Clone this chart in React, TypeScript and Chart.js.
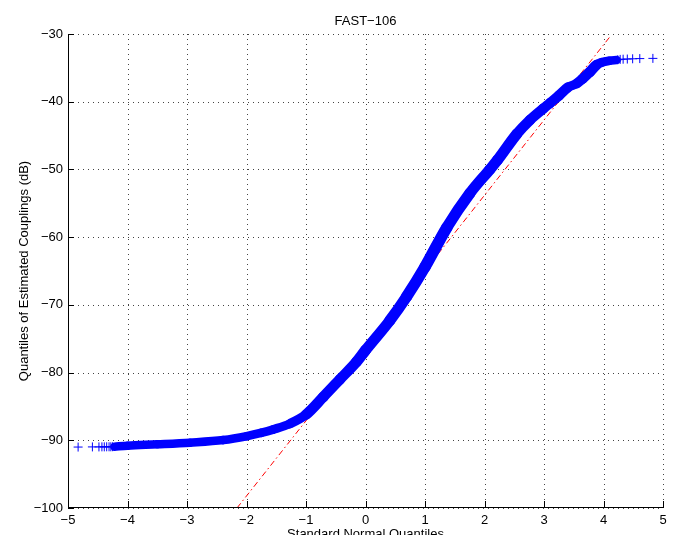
import React, { useEffect, useRef } from "react";
import { Chart, registerables } from "chart.js";

Chart.register(...registerables);

const chartTitle = "FAST\u2212106";
const xAxisLabel = "Standard Normal Quantiles";
const yAxisLabel = "Quantiles of Estimated Couplings (dB)";

const xTicks = [-5, -4, -3, -2, -1, 0, 1, 2, 3, 4, 5];
const yTicks = [-100, -90, -80, -70, -60, -50, -40, -30];

// dense central band of the quantile curve
const bandX = [
  -4.22, -4.0, -3.5, -2.95, -2.39, -2.0, -1.75, -1.55, -1.27, -1.0, -0.71, -0.43, -0.15, 0,
  0.41, 0.69, 1.0, 1.365, 1.756, 2.09, 2.22, 2.54, 2.765, 2.99, 3.1, 3.25, 3.4, 3.55, 3.65,
  3.77, 3.88, 3.97, 4.1, 4.22,
];
const bandY = [
  -90.95, -90.8, -90.6, -90.35, -89.97, -89.4, -88.9, -88.4, -87.55, -86.2, -83.6, -81.0,
  -78.4, -76.7, -72.3, -68.8, -64.4, -58.6, -53.5, -50.0, -48.6, -44.8, -42.7, -41.0, -40.2,
  -39.1, -37.9, -37.3, -36.6, -35.6, -34.6, -34.2, -33.95, -33.85,
];

// sparse tail markers
const leftTailX = [-4.83, -4.59, -4.48, -4.43, -4.39, -4.35, -4.31, -4.28, -4.25];
const leftTailY = [-91.0, -90.98, -90.98, -90.97, -90.97, -90.96, -90.96, -90.96, -90.95];
const rightTailX = [4.24, 4.28, 4.33, 4.4, 4.49, 4.61, 4.83];
const rightTailY = [-33.8, -33.75, -33.72, -33.7, -33.66, -33.63, -33.6];

// reference line (dash-dot)
const refLineX = [-2.16, 4.1];
const refLineY = [-100, -30.5];

const FONT = "'Liberation Sans', Arial, Helvetica, sans-serif";

const fmt = (v: number) => (v < 0 ? "\u2212" + String(Math.abs(v)) : String(v));

const toPts = (xs: number[], ys: number[]) => xs.map((x, i) => ({ x, y: ys[i] }));

const matlabAxes = {
  id: "matlabAxes",
  beforeDatasetsDraw(chart: any) {
    const { ctx, chartArea: a, scales } = chart;
    const xs = scales.x;
    const ys = scales.y;
    ctx.save();
    ctx.strokeStyle = "#444";
    ctx.lineWidth = 1;
    ctx.setLineDash([1, 4]);
    xTicks.forEach((v) => {
      const px = Math.round(xs.getPixelForValue(v)) + 0.5;
      ctx.beginPath();
      ctx.moveTo(px, a.top);
      ctx.lineTo(px, a.bottom);
      ctx.stroke();
    });
    yTicks.forEach((v) => {
      const py = Math.round(ys.getPixelForValue(v)) + 0.5;
      ctx.beginPath();
      ctx.moveTo(a.left, py);
      ctx.lineTo(a.right, py);
      ctx.stroke();
    });
    ctx.restore();
  },
  afterDatasetsDraw(chart: any) {
    const { ctx, chartArea: a, scales } = chart;
    const xs = scales.x;
    const ys = scales.y;
    ctx.save();
    ctx.fillStyle = "#000";
    const left = Math.round(a.left);
    const bottom = Math.round(a.bottom) - 1;
    ctx.fillRect(left, Math.round(a.top), 1, bottom - Math.round(a.top) + 1);
    ctx.fillRect(left, bottom, Math.round(a.right) - left + 1, 1);
    const tl = 6;
    xTicks.forEach((v) => {
      const px = Math.round(xs.getPixelForValue(v));
      ctx.fillRect(px, bottom - tl, 1, tl);
    });
    yTicks.forEach((v) => {
      const py = Math.round(ys.getPixelForValue(v));
      ctx.fillRect(left, py, tl, 1);
    });
    ctx.restore();
  },
  afterDraw(chart: any) {
    const { ctx, chartArea: a } = chart;
    ctx.save();
    ctx.fillStyle = "#000";
    ctx.font = `13px ${FONT}`;
    ctx.textAlign = "center";
    ctx.textBaseline = "alphabetic";
    const cx = (a.left + a.right) / 2;
    ctx.fillText(chartTitle, cx, 25);
    ctx.fillText(xAxisLabel, cx, 537.5);
    ctx.translate(28, (a.top + a.bottom) / 2);
    ctx.rotate(-Math.PI / 2);
    ctx.fillText(yAxisLabel, 0, 0);
    ctx.restore();
  },
};

const bandWidth = (c: any) => {
  const dx = Math.abs(c.p1.x - c.p0.x);
  const dy = Math.abs(c.p1.y - c.p0.y);
  const s = Math.sin(Math.atan2(dy, dx || 1e-6));
  return 8.5 + 4 * s * s;
};

export default function App() {
  const ref = useRef<HTMLCanvasElement | null>(null);
  useEffect(() => {
    if (!ref.current) return;
    const chart = new Chart(ref.current, {
      type: "line",
      data: {
        datasets: [
          {
            label: "band",
            data: toPts(bandX, bandY),
            borderColor: "#0000ff",
            borderWidth: 9,
            borderCapStyle: "round",
            borderJoinStyle: "round",
            cubicInterpolationMode: "monotone",
            segment: { borderWidth: bandWidth },
            pointRadius: 0,
            fill: false,
          },
          {
            label: "tailsLeft",
            data: toPts(leftTailX, leftTailY),
            showLine: false,
            pointStyle: "cross",
            pointRadius: 4.5,
            borderWidth: 1,
            borderColor: "#0000ff",
            backgroundColor: "#0000ff",
          },
          {
            label: "tailsRight",
            data: toPts(rightTailX, rightTailY),
            showLine: false,
            pointStyle: "cross",
            pointRadius: 4.5,
            borderWidth: 1,
            borderColor: "#0000ff",
            backgroundColor: "#0000ff",
          },
          {
            label: "reference",
            data: toPts(refLineX, refLineY),
            borderColor: "#ff0000",
            borderWidth: 1,
            borderDash: [6, 3, 1.5, 3],
            pointRadius: 0,
            fill: false,
          },
        ],
      },
      options: {
        responsive: false,
        animation: false,
        devicePixelRatio: 1,
        layout: { padding: { top: 34, right: 15, left: 0, bottom: 0 } },
        plugins: {
          legend: { display: false },
          title: { display: false },
          tooltip: { enabled: false },
        },
        scales: {
          x: {
            type: "linear",
            min: -5,
            max: 5,
            grid: { display: false, drawTicks: false },
            border: { display: false },
            ticks: {
              stepSize: 1,
              padding: 5,
              color: "#000",
              font: { family: FONT, size: 13 },
              maxRotation: 0,
              autoSkip: false,
              callback: (v: any) => fmt(Number(v)),
            },
            afterFit: (s: any) => {
              s.height = 27;
            },
          },
          y: {
            type: "linear",
            min: -100,
            max: -30,
            grid: { display: false, drawTicks: false },
            border: { display: false },
            ticks: {
              stepSize: 10,
              padding: 5,
              color: "#000",
              font: { family: FONT, size: 13 },
              autoSkip: false,
              callback: (v: any) => fmt(Number(v)),
            },
            afterFit: (s: any) => {
              s.width = 68;
            },
          },
        },
      } as any,
      plugins: [matlabAxes],
    });
    return () => chart.destroy();
  }, []);
  return (
    <div style={{ position: "fixed", left: 0, top: 0, width: 678, height: 535, background: "#fff" }}>
      <canvas ref={ref} width={678} height={535} style={{ width: 678, height: 535 }} />
    </div>
  );
}
